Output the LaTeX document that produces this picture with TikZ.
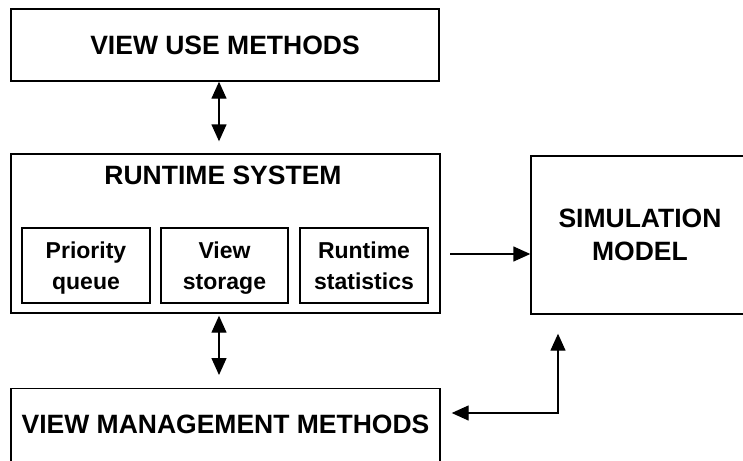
\documentclass[tikz,border=0pt]{standalone}
\usepackage{fontspec}
\setmainfont{Liberation Sans}
\usetikzlibrary{arrows.meta}
\begin{document}
\begin{tikzpicture}[x=1pt,y=-1pt,
  box/.style={draw,line width=1.4pt,inner sep=0pt},
  big/.style={font=\bfseries\fontsize{26.5}{33}\selectfont},
  small/.style={font=\bfseries\fontsize{23}{31}\selectfont,align=center,text depth=0pt},
  tip/.tip={Triangle[length=17pt,width=15pt]},
  conn/.style={line width=1.4pt,-tip},
  dconn/.style={line width=1.4pt,tip-tip}]
\useasboundingbox (0,0) rectangle (743,460);
\clip (0,0) rectangle (743,460);
% boxes
\node[box,big,minimum width=428pt,minimum height=72pt] (top) at (225,45) {VIEW USE METHODS};
\node[box,minimum width=429pt,minimum height=159pt] (rt) at (225.5,233.5) {};
\node[big,inner sep=0pt] (rtitle) at (223,175) {RUNTIME SYSTEM};
\node[box,small,minimum width=128pt,minimum height=75pt] (pq) at (86,265.5) {Priority\\queue};
\node[box,small,minimum width=127pt,minimum height=75pt] (vs) at (224.5,265.5) {View\\storage};
\node[box,small,minimum width=128pt,minimum height=75pt] (rs) at (364,265.5) {Runtime\\statistics};
\node[box,big,align=center,minimum width=218pt,minimum height=158pt] (sim) at (640,235) {SIMULATION\\MODEL};
\node[box,big,anchor=north,inner xsep=0pt,inner ysep=14.5pt,text height=30pt,text depth=50pt,minimum width=429pt] (vmm) at (225.5,388) {VIEW MANAGEMENT METHODS};
% connectors
\coordinate (ax) at (219,0);
\draw[dconn,shorten >=12pt] (top.south -| ax) -- (rt.north -| ax);
\draw[dconn,shorten <=2pt,shorten >=13pt] (rt.south -| ax) -- (vmm.north -| ax);
\coordinate (a3s) at (450,254);
\draw[conn] (a3s) -- (a3s -| sim.west);
\coordinate (a4c) at (558,413);
\draw[dconn,shorten <=19pt,shorten >=11pt] (sim.south -| a4c) -- (a4c) -- (a4c -| vmm.east);
\end{tikzpicture}
\end{document}
